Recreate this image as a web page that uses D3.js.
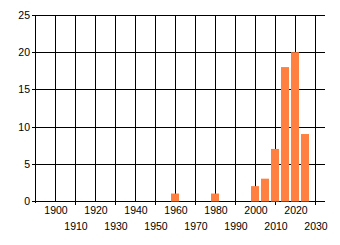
<!DOCTYPE html>
<html>
<head>
<meta charset="utf-8">
<script src="https://cdn.jsdelivr.net/npm/d3@7"></script>
<style>
  body { margin: 0; background: #fff; }
  text { font-family: "Liberation Sans", Arial, sans-serif; font-size: 10.5px; fill: #000; }
</style>
</head>
<body>
<svg id="chart" width="340" height="245"></svg>
<script>
const years = [1960, 1980, 2000, 2005, 2010, 2015, 2020, 2025];
const counts = [1, 1, 2, 3, 7, 18, 20, 9];
const xTicks = [1900, 1910, 1920, 1930, 1940, 1950, 1960, 1970, 1980, 1990, 2000, 2010, 2020, 2030];
const yTicks = [0, 5, 10, 15, 20, 25];

const margin = { top: 15, right: 15, bottom: 44, left: 35 };
const width = 340 - margin.left - margin.right;
const height = 245 - margin.top - margin.bottom;

const svg = d3.select("#chart")
  .append("g")
  .attr("transform", `translate(${margin.left},${margin.top})`);

const x = d3.scaleLinear().domain([1890, 2035]).range([0, width]);
const y = d3.scaleLinear().domain([0, 25]).range([height, 0]);

// grid (horizontal lines start a little left of the axis = tick marks)
svg.append("g")
  .selectAll("line")
  .data(yTicks)
  .enter().append("line")
  .attr("x1", -3).attr("x2", width)
  .attr("y1", d => Math.round(y(d)) + 0.5)
  .attr("y2", d => Math.round(y(d)) + 0.5)
  .attr("stroke", "#000");

svg.append("g")
  .selectAll("line")
  .data(xTicks)
  .enter().append("line")
  .attr("x1", d => Math.round(x(d)) + 0.5)
  .attr("x2", d => Math.round(x(d)) + 0.5)
  .attr("y1", 0)
  .attr("y2", (d, i) => height + (i % 2 ? 4 : 0))
  .attr("stroke", "#000");

// y axis line
svg.append("line")
  .attr("x1", 0.5).attr("x2", 0.5)
  .attr("y1", 0).attr("y2", height + 2)
  .attr("stroke", "#000");

// bars
svg.selectAll(".bar")
  .data(years)
  .enter().append("rect")
  .attr("class", "bar")
  .attr("x", d => x(d) - 4)
  .attr("width", 8)
  .attr("y", (d, i) => y(counts[i]))
  .attr("height", (d, i) => y(0) - y(counts[i]) + 0.5)
  .attr("fill", "#ff8040");

// x labels, staggered
svg.append("g")
  .selectAll("text")
  .data(xTicks)
  .enter().append("text")
  .attr("x", d => x(d) + 1)
  .attr("y", (d, i) => height + (i % 2 ? 29 : 13))
  .attr("text-anchor", "middle")
  .text(d => d);

// y labels
svg.append("g")
  .selectAll("text")
  .data(yTicks)
  .enter().append("text")
  .attr("x", -5)
  .attr("y", d => y(d) + 4)
  .attr("text-anchor", "end")
  .text(d => d);
</script>
</body>
</html>
